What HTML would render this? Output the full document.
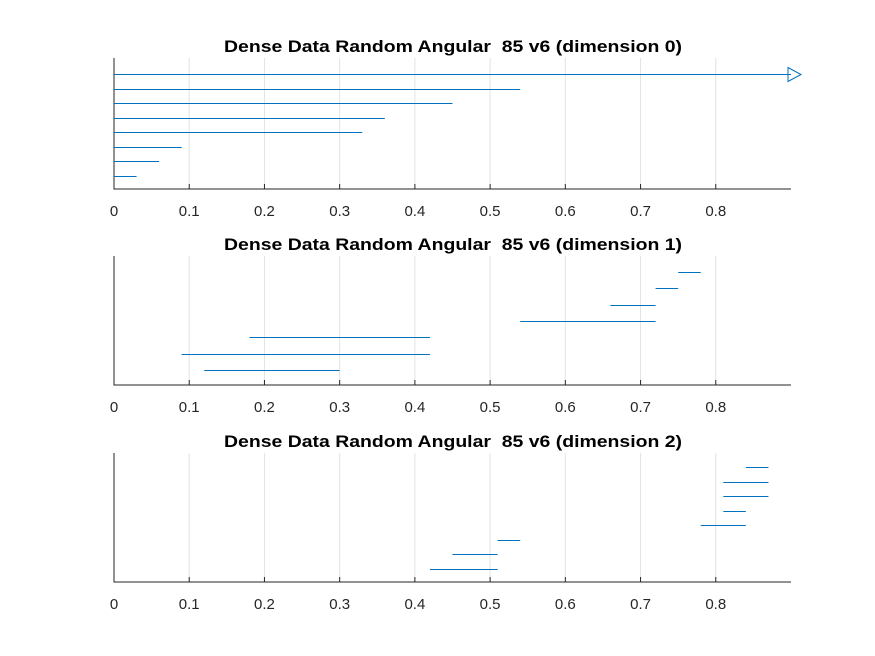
<!DOCTYPE html>
<html><head><meta charset="utf-8"><style>
body{margin:0;background:#fff}
svg{display:block;font-family:"Liberation Sans",Arial,sans-serif}
.t{white-space:pre}
</style></head><body>
<svg id="c" width="875" height="656"></svg>
<script>
const titles=["Dense Data Random Angular  85 v6 (dimension 0)","Dense Data Random Angular  85 v6 (dimension 1)","Dense Data Random Angular  85 v6 (dimension 2)"];
const xTicks=[0,0.1,0.2,0.3,0.4,0.5,0.6,0.7,0.8];
const xTickLabels=["0","0.1","0.2","0.3","0.4","0.5","0.6","0.7","0.8"];
const starts0=[0,0,0,0,0,0,0,0];
const ends0=[0.03,0.06,0.09,0.33,0.36,0.45,0.54,0.9];
const starts1=[0.12,0.09,0.18,0.54,0.66,0.72,0.75];
const ends1=[0.30,0.42,0.42,0.72,0.72,0.75,0.78];
const starts2=[0.42,0.45,0.51,0.78,0.81,0.81,0.81,0.84];
const ends2=[0.51,0.51,0.54,0.84,0.84,0.87,0.87,0.87];
const arrowRow=[7,-1,-1];

const svg=document.getElementById('c');
const NS="http://www.w3.org/2000/svg";
function mk(t,a,p){const e=document.createElementNS(NS,t);for(const k in a)e.setAttribute(k,a[k]);(p||svg).appendChild(e);return e;}
const L=114,R=791,xMax=0.9;
const tops=[58,256,453],bots=[189,385,582];
const rowOff=[13,15,13],rowStep=[14.57,16.33,14.57];
const xs=v=>L+(R-L)*v/xMax;
const series=[[starts0,ends0],[starts1,ends1],[starts2,ends2]];
for(let p=0;p<3;p++){
  const g=mk('g',{});
  
  
  const T=tops[p],B=bots[p];
  const ys=v=>B-rowOff[p]-(v-1)*rowStep[p];
  xTicks.forEach((t,i)=>{
    const gl=mk('line',{x1:xs(t),x2:xs(t),y1:T,y2:B,stroke:'#e3e3e3','stroke-width':1},g);
    
    
    mk('line',{x1:xs(t),x2:xs(t),y1:B,y2:B-5,stroke:'#262626','stroke-width':1},g);
    const tx=mk('text',{x:xs(t),y:B+27,'text-anchor':'middle','font-size':15,fill:'#262626'},g);
    tx.textContent=xTickLabels[i];
    
    
  });
  const ax=mk('path',{d:`M${L},${T}V${B}H${R}`,fill:'none',stroke:'#262626','stroke-width':1},g);
  
  
  const [s,e]=series[p];
  s.forEach((v,i)=>{
    const y=Math.round(ys(i+1))+0.5;
    const ln=mk('line',{x1:xs(v),x2:xs(e[i]),y1:y,y2:y,stroke:'#0072bd','stroke-width':1},g);
    
    
    if(i===arrowRow[p]){
      const x=xs(e[i]);
      const a=mk('path',{d:`M${x-3},${y-7}L${x+10},${y}L${x-3},${y+7}Z`,fill:'none',stroke:'#0072bd','stroke-width':1},g);
      
      
    }
  });
  const ti=mk('text',{x:224,y:T-6,'font-size':17,'font-weight':'bold',fill:'#000',class:'t',textLength:458,lengthAdjust:'spacingAndGlyphs'},g);
  ti.textContent=titles[p];
  
  
}
</script>
</body></html>
